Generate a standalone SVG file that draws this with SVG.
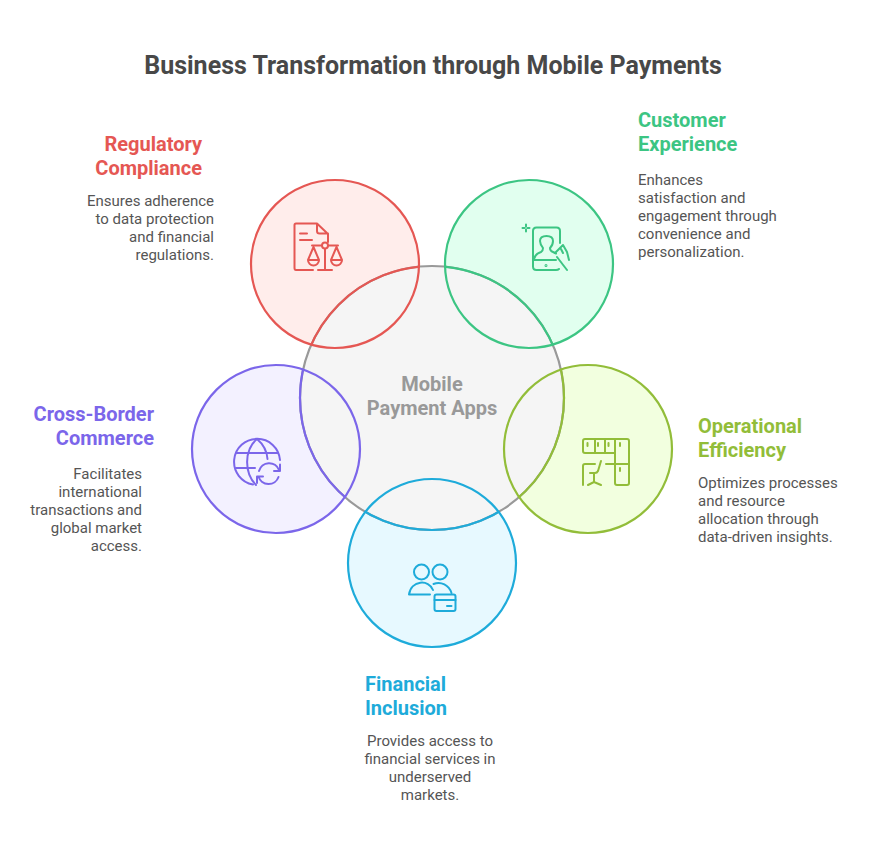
<svg xmlns="http://www.w3.org/2000/svg" width="876" height="852" viewBox="0 0 876 852">
<style>
text{font-family:Roboto,"Liberation Sans",sans-serif}
.t{font-size:25px;font-weight:700;fill:#484848}
.h{font-size:20px;font-weight:700}
.d{font-size:15px;fill:#555}
.e{text-anchor:end}.m{text-anchor:middle}
.ic{fill:none;stroke-width:2;stroke-linecap:round;stroke-linejoin:round}
.r{stroke:#e55753}.g{stroke:#3cc583}.o{stroke:#92bd39}.b{stroke:#1eabda}.p{stroke:#7b66ea}
.s{stroke-width:2.2}
</style>
<defs>
<clipPath id="cr"><circle cx="335" cy="264" r="85"/></clipPath>
<clipPath id="cg"><circle cx="529" cy="264" r="85"/></clipPath>
<clipPath id="co"><circle cx="588" cy="449" r="85"/></clipPath>
<clipPath id="cb"><circle cx="432" cy="563" r="85"/></clipPath>
<clipPath id="cp"><circle cx="276" cy="449" r="85"/></clipPath>
</defs>
<rect width="876" height="852" fill="#fff"/>
<text class="t m" x="433" y="74">Business Transformation through Mobile Payments</text>

<g id="bg-circles">
<circle cx="335" cy="264" r="84" fill="#ffedeb"/>
<circle cx="529" cy="264" r="84" fill="#e1ffef"/>
<circle cx="588" cy="449" r="84" fill="#f2ffdf"/>
<circle cx="432" cy="563" r="84" fill="#e7f9ff"/>
<circle cx="276" cy="449" r="84" fill="#f3f1ff"/>
</g>

<g id="center">
<circle cx="432" cy="398" r="132" fill="#f5f5f5" stroke="#999" stroke-width="2.2"/>
<text class="h m" x="432" y="391" fill="#999">Mobile</text>
<text class="h m" x="432" y="415" fill="#999">Payment Apps</text>
</g>

<g id="regulatory">
<circle class="s r" cx="335" cy="264" r="84" fill="none"/>
<circle class="s r" cx="432" cy="398" r="132" fill="none" clip-path="url(#cr)"/>
<g class="ic r">
<path d="M313 270H296Q294.500 270 294.500 268V225Q294.500 223.500 296 223.500H317L328 234V242M317 223.500V231Q317 233.500 319.500 233.500H328"/>
<path d="M300 233.500H307M300 240H312"/>
<path d="M312 245.500H322M328 245.500H338M325 249V270M318 270H332"/>
<circle cx="325" cy="245.500" r="3"/>
<path d="M313.500 247L308 260M313.500 247L319 260M308 260H319A5.500 5.500 0 0 1 308 260Z"/>
<path d="M336.500 247L331 260M336.500 247L342 260M331 260H342A5.500 5.500 0 0 1 331 260Z"/>
</g>
<text class="h e" x="202" y="151" fill="#e55753">Regulatory</text>
<text class="h e" x="202" y="175" fill="#e55753">Compliance</text>
<text class="d e" x="214" y="206">Ensures adherence</text>
<text class="d e" x="214" y="224">to data protection</text>
<text class="d e" x="214" y="242">and financial</text>
<text class="d e" x="214" y="260">regulations.</text>
</g>

<g id="customer">
<circle class="s g" cx="529" cy="264" r="84" fill="none"/>
<circle class="s g" cx="432" cy="398" r="132" fill="none" clip-path="url(#cg)"/>
<g class="ic g">
<path d="M560 243V231Q560 227.500 556.500 227.500H536.500Q533 227.500 533 231V266.500Q533 270 536.500 270H556Q558 270 559 269"/>
<path d="M533.500 260H556"/>
<path d="M534 259Q535 254 541 252Q543 251 543 248Q540 244 540 241Q540 236 546.500 236Q553 236 553 241Q553 245 550 248Q550 251 553 252L556 253.500"/>
<path d="M555 253L563 245L567 252Q568 256 569 260M557 257L567 270M561 249L563 253"/>
<path d="M526 224.500V226.500M526 229.500V231.500M522.500 228H524.500M527.500 228H529.500"/>
<circle cx="546" cy="265.500" r="0.500"/>
</g>
<text class="h" x="638" y="127" fill="#3cc583">Customer</text>
<text class="h" x="638" y="151" fill="#3cc583">Experience</text>
<text class="d" x="638" y="185">Enhances</text>
<text class="d" x="638" y="203">satisfaction and</text>
<text class="d" x="638" y="221">engagement through</text>
<text class="d" x="638" y="239">convenience and</text>
<text class="d" x="638" y="257">personalization.</text>
</g>

<g id="operational">
<circle class="s o" cx="588" cy="449" r="84" fill="none"/>
<circle class="s o" cx="432" cy="398" r="132" fill="none" clip-path="url(#co)"/>
<g class="ic o">
<path d="M615 453H585Q583 453 583 451V441Q583 439 585 439H627Q629 439 629 441V483Q629 485 627 485H617Q615 485 615 483V439"/>
<path d="M595 439V453M605 439V453M606 464H629"/>
<path d="M587.500 443V446M598 443V446M608.500 443V446M620 443V446M620 468V471"/>
<path d="M583 485V466Q583 464 585 464H595M601 461L598 471Q597 473 595 473H590M594 473V482M588 485L594 482L601 485"/>
</g>
<text class="h" x="698" y="433" fill="#92bd39">Operational</text>
<text class="h" x="698" y="457" fill="#92bd39">Efficiency</text>
<text class="d" x="698" y="488">Optimizes processes</text>
<text class="d" x="698" y="506">and resource</text>
<text class="d" x="698" y="524">allocation through</text>
<text class="d" x="698" y="542">data-driven insights.</text>
</g>

<g id="financial">
<circle class="s b" cx="432" cy="563" r="84" fill="none"/>
<circle class="s b" cx="432" cy="398" r="132" fill="none" clip-path="url(#cb)"/>
<g class="ic b">
<circle cx="421.500" cy="572" r="7.500"/>
<circle cx="440" cy="572" r="7.500"/>
<path d="M409 594.500C411 580 429 579 433 590M409 594.500H430"/>
<path d="M433.500 584C441 581 449 585 451.500 593"/>
<rect x="434.500" y="594.500" width="21" height="16.500" rx="2"/>
<path d="M434.500 600H455.500M447 606H451.500"/>
</g>
<text class="h" x="365" y="691" fill="#1eabda">Financial</text>
<text class="h" x="365" y="715" fill="#1eabda">Inclusion</text>
<text class="d m" x="430" y="746">Provides access to</text>
<text class="d m" x="430" y="764">financial services in</text>
<text class="d m" x="430" y="782">underserved</text>
<text class="d m" x="430" y="800">markets.</text>
</g>

<g id="crossborder">
<circle class="s p" cx="276" cy="449" r="84" fill="none"/>
<circle class="s p" cx="432" cy="398" r="132" fill="none" clip-path="url(#cp)"/>
<g class="ic p">
<path d="M253 484.500A23 23 0 1 1 280 460"/>
<path d="M257 439C244 450 244 473 256 485M257 439C263 444 267 452 267.500 459"/>
<path d="M236 453H278M236 468H255"/>
<path d="M259 471A10.500 10.500 0 0 1 279 470M280 464.500V471H274"/>
<path d="M278.500 477A10.500 10.500 0 0 1 258.500 476.500M257 483V476.500H263"/>
</g>
<text class="h e" x="154" y="421" fill="#7b66ea">Cross-Border</text>
<text class="h e" x="154" y="445" fill="#7b66ea">Commerce</text>
<text class="d e" x="142" y="479">Facilitates</text>
<text class="d e" x="142" y="497">international</text>
<text class="d e" x="142" y="515">transactions and</text>
<text class="d e" x="142" y="533">global market</text>
<text class="d e" x="142" y="551">access.</text>
</g>
</svg>
